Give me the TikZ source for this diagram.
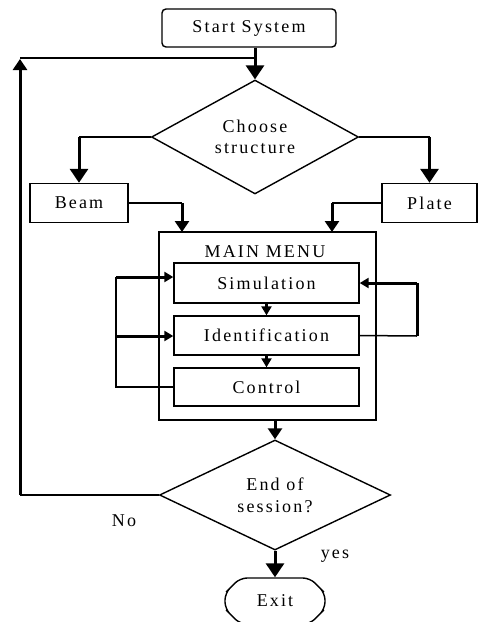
\documentclass[tikz,border=0pt]{standalone}
\usepackage{fontspec}
\setmainfont{Liberation Serif}[LetterSpace=12]
\usetikzlibrary{shapes.geometric,shapes.misc,arrows.meta}

\begin{document}
\begin{tikzpicture}[x=1pt,y=-1pt]
\tikzset{box/.style = {shape=rectangle,draw,line width=1.4pt,inner sep=0pt,font=\fontsize{18}{21}\selectfont}}
\tikzset{decision/.style = {shape=diamond,draw,line width=1.4pt,inner sep=0pt,align=center,font=\fontsize{18}{21}\selectfont}}
\tikzset{thinline/.style = {line width=1.5pt}}
\tikzset{bigarrow/.style = {line width=3pt,-{Triangle[length=14pt,width=18pt]}}}
\tikzset{midarrow/.style = {line width=3pt,-{Triangle[length=11pt,width=14pt]}}}
\tikzset{smallarrow/.style = {line width=3pt,-{Triangle[length=9pt,width=10pt]}}}
\useasboundingbox (0,0) rectangle (478,622);
% boxes
\node[box,rounded corners=4pt,minimum width=174pt,minimum height=38pt] (start) at (249,28) {Start System};
\node[decision,minimum width=207pt,minimum height=97pt] (choose) at (255,137) {Choose\\structure};
\node[box,minimum width=98pt,minimum height=39pt] (beam) at (79,203) {Beam};
\node[box,minimum width=95pt,minimum height=39pt] (plate) at (429.5,203) {Plate};
\node[box,minimum width=217pt,minimum height=188pt] (menu) at (267.5,326) {};
\node[font=\fontsize{18}{21}\selectfont] (title) at (265,252) {MAIN MENU};
\node[box,minimum width=185pt,minimum height=40pt] (sim) at (266.5,283) {Simulation};
\node[box,minimum width=185pt,minimum height=39pt] (ident) at (266.5,335.5) {Identification};
\node[box,minimum width=185pt,minimum height=38pt] (ctrl) at (266.5,387) {Control};
\node[decision,minimum width=231pt,minimum height=103pt] (endq) at (275,495) {End of\\[1pt]session?};
\node[box,chamfered rectangle,chamfered rectangle xsep=7pt,chamfered rectangle ysep=9pt,rounded corners=7pt,
      minimum width=100pt,minimum height=46pt] (exit) at (275,601) {Exit};
\node[font=\fontsize{18}{21}\selectfont] (no) at (124,521) {No};
\node[font=\fontsize{18}{21}\selectfont] (yes) at (335,556) {yes};
% turning points
\coordinate (join) at (255,58);
\coordinate (looptop) at (20,59);
\coordinate (loopbot) at (20,495);
\coordinate (beamin) at (182,232);
\coordinate (platein) at (332,232);
\coordinate (lefttop) at (116,277);
\coordinate (leftmid) at (116,336);
\coordinate (leftbot) at (116,387);
\coordinate (righttop) at (417,283);
\coordinate (rightbot) at (417,336);
% main flow
\draw[bigarrow] (start.south -| choose.north) -- (choose.north);
\draw[thinline] (choose.west) -- (choose.west -| beam.north);
\draw[bigarrow] (choose.west -| beam.north) -- (beam.north);
\draw[thinline] (choose.east) -- (choose.east -| plate.north);
\draw[bigarrow] (choose.east -| plate.north) -- (plate.north);
\draw[thinline] (beam.east) -- (beam.east -| beamin);
\draw[midarrow] (beam.east -| beamin) -- (beamin);
\draw[thinline] (plate.west) -- (plate.west -| platein);
\draw[midarrow] (plate.west -| platein) -- (platein);
\draw[midarrow] (menu.south -| endq.north) -- (endq.north);
\draw[bigarrow] (endq.south) -- (exit.north);
% back to the start
\draw[thinline] (endq.west) -- (loopbot);
\draw[midarrow] (loopbot) -- (looptop);
\draw[thinline] (looptop) ++(0,-1) -- (join);
% inside the menu
\draw[smallarrow] (sim.south) -- (ident.north);
\draw[smallarrow] (ident.south) -- (ctrl.north);
\draw[thinline] (ctrl.west) -- (leftbot) -- (lefttop);
\draw[smallarrow] (lefttop) -- (lefttop -| sim.west);
\draw[smallarrow] (leftmid) -- (leftmid -| ident.west);
\draw[thinline] (ident.east) -- (rightbot);
\draw[line width=3pt] (rightbot) -- (righttop);
\draw[smallarrow] (righttop) -- (sim.east);
\end{tikzpicture}
\end{document}
